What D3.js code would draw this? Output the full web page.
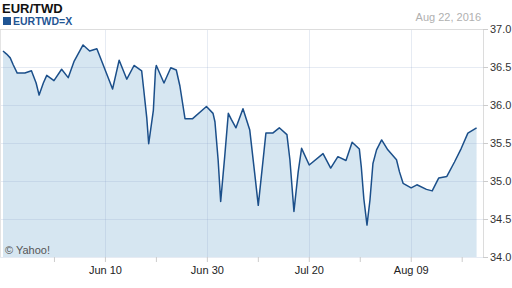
<html>
<head>
    <meta charset="utf-8">
    <!-- Load d3.js -->
    <script src="https://d3js.org/d3.v7.min.js"></script>
    <style>
      body { margin: 0; background: #fff; }
      text { font-family: "Liberation Sans", Arial, sans-serif; }
    </style>
</head>
<body>
<div id="my_dataviz"></div>

<script>
// EUR/TWD, May 21 - Aug 22 2016
const dates = [
  "2016-05-21 00","2016-05-21 17","2016-05-22 10","2016-05-23 00","2016-05-23 19",
  "2016-05-25 07","2016-05-26 14","2016-05-26 22","2016-05-27 12","2016-05-28 02",
  "2016-05-28 22","2016-05-29 14","2016-05-31 00","2016-06-01 12","2016-06-02 19",
  "2016-06-03 22","2016-06-05 17","2016-06-07 00","2016-06-08 10","2016-06-09 10",
  "2016-06-11 12","2016-06-12 19","2016-06-14 07","2016-06-15 17","2016-06-17 05",
  "2016-06-17 14","2016-06-18 05","2016-06-18 14","2016-06-19 12","2016-06-19 22",
  "2016-06-20 02","2016-06-21 14","2016-06-22 22","2016-06-24 00","2016-06-24 17",
  "2016-06-25 17","2016-06-27 05","2016-06-29 22","2016-07-01 05","2016-07-01 14",
  "2016-07-02 05","2016-07-02 17","2016-07-03 12","2016-07-04 05","2016-07-04 19",
  "2016-07-05 17","2016-07-07 02","2016-07-08 10","2016-07-09 10","2016-07-10 02",
  "2016-07-11 05","2016-07-11 14","2016-07-12 22","2016-07-14 05","2016-07-15 17",
  "2016-07-16 07","2016-07-17 02","2016-07-17 22","2016-07-18 14","2016-07-20 02",
  "2016-07-22 19","2016-07-24 07","2016-07-25 17","2016-07-27 07","2016-07-28 12",
  "2016-07-29 22","2016-07-30 07","2016-07-30 19","2016-07-31 10","2016-08-01 00",
  "2016-08-01 14","2016-08-02 07","2016-08-03 07","2016-08-04 12","2016-08-06 05",
  "2016-08-06 19","2016-08-07 12","2016-08-09 02","2016-08-10 05","2016-08-12 02",
  "2016-08-13 05","2016-08-14 12","2016-08-16 02","2016-08-17 14","2016-08-18 22",
  "2016-08-20 05","2016-08-21 22"
];
const rates = [
  36.71, 36.67, 36.62, 36.53, 36.42,
  36.42, 36.45, 36.39, 36.29, 36.13,
  36.29, 36.39, 36.32, 36.47, 36.36,
  36.57, 36.79, 36.71, 36.74, 36.57,
  36.21, 36.59, 36.34, 36.52, 36.45,
  36.22, 35.83, 35.49, 35.93, 36.46,
  36.52, 36.29, 36.49, 36.46, 36.25,
  35.82, 35.82, 35.98, 35.89, 35.78,
  35.28, 34.73, 35.32, 35.89, 35.81,
  35.70, 35.95, 35.67, 35.08, 34.68,
  35.39, 35.63, 35.63, 35.70, 35.61,
  35.28, 34.60, 35.12, 35.43, 35.21,
  35.36, 35.17, 35.32, 35.27, 35.51,
  35.42, 35.19, 34.77, 34.42, 34.75,
  35.23, 35.41, 35.54, 35.41, 35.28,
  35.12, 34.97, 34.91, 34.95, 34.89,
  34.87, 35.04, 35.06, 35.25, 35.43,
  35.63, 35.70
];
const yTicks = [34.0, 34.5, 35.0, 35.5, 36.0, 36.5, 37.0];
const xLabels = ["2016-06-10 00","2016-06-30 00","2016-07-20 00","2016-08-09 00"];
const xMinor = ["2016-05-31 00","2016-06-20 00","2016-07-10 00","2016-07-30 00","2016-08-19 00"];
const xDomain = ["2016-05-21 00","2016-08-22 00"];

const W = 512, H = 288;
const plot = {left: 0, right: 483, top: 29, bottom: 257};

const parse = d3.timeParse("%Y-%m-%d %H");
const data = dates.map((d, i) => ({date: parse(d), value: rates[i]}));

const svg = d3.select("#my_dataviz")
  .append("svg")
    .attr("width", W)
    .attr("height", H);

const x = d3.scaleTime()
  .domain(xDomain.map(parse))
  .range([3, 477]);

const y = d3.scaleLinear()
  .domain([34, 37])
  .range([plot.bottom, plot.top]);

// area + line
svg.append("path")
  .datum(data)
  .attr("fill", "#d6e6f1")
  .attr("d", d3.area()
    .x(d => x(d.date))
    .y0(plot.bottom)
    .y1(d => y(d.value)));

// grid lines (drawn on top, semi transparent so they show through the fill)
const grid = svg.append("g")
  .attr("stroke", "rgba(140,165,200,0.22)")
  .attr("stroke-width", 1);
grid.selectAll(".hg")
  .data(yTicks)
  .join("line")
    .attr("x1", plot.left)
    .attr("x2", plot.right)
    .attr("y1", d => Math.round(y(d)) + 0.5)
    .attr("y2", d => Math.round(y(d)) + 0.5);
grid.selectAll(".vg")
  .data(xLabels.map(parse))
  .join("line")
    .attr("x1", d => Math.round(x(d)) + 0.5)
    .attr("x2", d => Math.round(x(d)) + 0.5)
    .attr("y1", plot.top)
    .attr("y2", plot.bottom);

svg.append("path")
  .datum(data)
  .attr("fill", "none")
  .attr("stroke", "#1b4f8a")
  .attr("stroke-width", 1.5)
  .attr("stroke-linejoin", "round")
  .attr("d", d3.line()
    .x(d => x(d.date))
    .y(d => y(d.value)));

// frame
svg.append("line")
  .attr("x1", plot.right + 0.5).attr("x2", plot.right + 0.5)
  .attr("y1", plot.top).attr("y2", plot.bottom + 1)
  .attr("stroke", "#dcdcdc");
svg.append("line")
  .attr("x1", 0.5).attr("x2", 0.5)
  .attr("y1", plot.top).attr("y2", plot.bottom)
  .attr("stroke", "#e4e4e4");

// right axis
const yAxis = svg.append("g")
  .attr("transform", `translate(${plot.right},0)`)
  .call(d3.axisRight(y).tickValues(yTicks).tickFormat(d3.format(".1f")).tickSize(5).tickPadding(2));
yAxis.select(".domain").remove();
yAxis.selectAll("line").attr("stroke", "#cccccc");
yAxis.selectAll("text")
  .style("font-size", "11px")
  .style("font-family", "'Liberation Sans', Arial, sans-serif")
  .attr("fill", "#333");

// bottom axis: minor ticks then labelled ticks
const xAxisMinor = svg.append("g")
  .attr("transform", `translate(0,${plot.bottom})`)
  .call(d3.axisBottom(x).tickValues(xMinor.map(parse)).tickFormat("").tickSize(5));
xAxisMinor.select(".domain").remove();
xAxisMinor.selectAll("line").attr("stroke", "#cccccc");

const xAxis = svg.append("g")
  .attr("transform", `translate(0,${plot.bottom})`)
  .call(d3.axisBottom(x).tickValues(xLabels.map(parse)).tickFormat(d3.timeFormat("%b %d")).tickSize(5).tickPadding(4));
xAxis.select(".domain").remove();
xAxis.selectAll("line").attr("stroke", "#cccccc");
xAxis.selectAll("text")
  .style("font-size", "11px")
  .style("font-family", "'Liberation Sans', Arial, sans-serif")
  .attr("fill", "#222");

// titles
svg.append("text")
  .attr("x", 2).attr("y", 13)
  .style("font-size", "13px").style("font-weight", "bold")
  .attr("fill", "#111")
  .text("EUR/TWD");
svg.append("rect")
  .attr("x", 3).attr("y", 17).attr("width", 8).attr("height", 8)
  .attr("fill", "#1f5594");
svg.append("text")
  .attr("x", 13).attr("y", 25)
  .style("font-size", "10.5px").style("font-weight", "bold")
  .attr("fill", "#1f5594")
  .text("EURTWD=X");
svg.append("text")
  .attr("x", 481).attr("y", 21)
  .attr("text-anchor", "end")
  .style("font-size", "11px")
  .attr("fill", "#b0b0b0")
  .text("Aug 22, 2016");
svg.append("line")
  .attr("x1", 0).attr("x2", plot.right)
  .attr("y1", plot.top + 0.5).attr("y2", plot.top + 0.5)
  .attr("stroke", "#dddddd");

svg.append("text")
  .attr("x", 5).attr("y", 254)
  .style("font-size", "11px")
  .attr("fill", "#555")
  .text("\u00a9 Yahoo!");
</script>
</body>
</html>
